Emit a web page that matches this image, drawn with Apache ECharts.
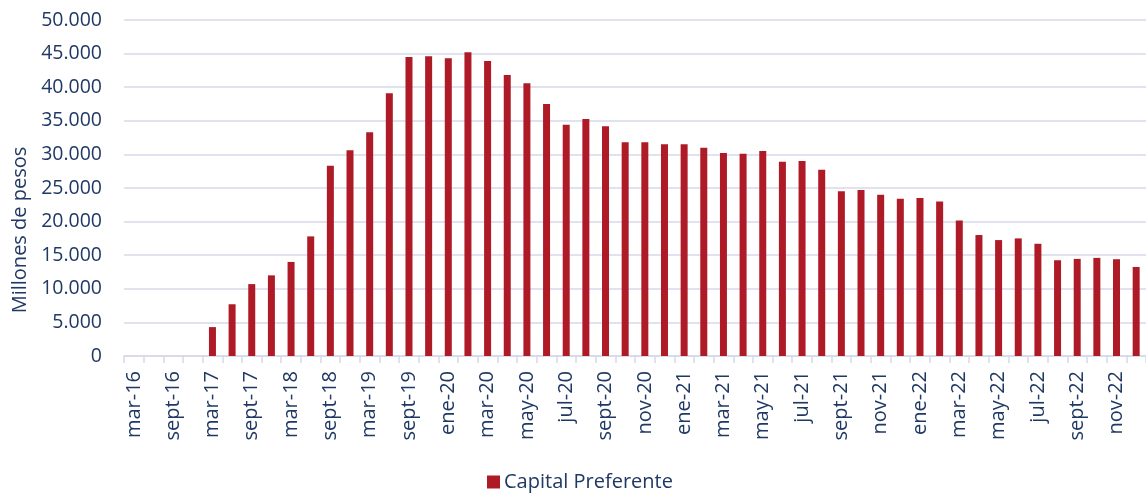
<!DOCTYPE html>
<html>
<head>
<meta charset="utf-8">
<script src="https://cdn.jsdelivr.net/npm/echarts@6/dist/echarts.min.js"></script>
<style>
html,body{margin:0;padding:0;background:#fff;}
#chart{width:1146px;height:493px;}
</style>
</head>
<body>
<div id="chart"></div>
<script>
const categories = [
  'mar-16','jun-16','sept-16','dic-16',
  'mar-17','jun-17','sept-17','dic-17',
  'mar-18','jun-18','sept-18','dic-18',
  'mar-19','jun-19','sept-19','dic-19',
  'ene-20','feb-20','mar-20','abr-20','may-20','jun-20','jul-20','ago-20','sept-20','oct-20','nov-20','dic-20',
  'ene-21','feb-21','mar-21','abr-21','may-21','jun-21','jul-21','ago-21','sept-21','oct-21','nov-21','dic-21',
  'ene-22','feb-22','mar-22','abr-22','may-22','jun-22','jul-22','ago-22','sept-22','oct-22','nov-22','dic-22'
];
const capitalPreferente = [
  null, null, null, null,
  4300, 7700, 10700, 12000,
  14000, 17800, 28300, 30600,
  33300, 39100, 44500, 44600,
  44300, 45200, 43900, 41800, 40600, 37500, 34400, 35250, 34200, 31800, 31800, 31500,
  31500, 31000, 30200, 30100, 30500, 28900, 29000, 27700, 24500, 24700, 24000, 23400,
  23500, 23000, 20150, 18000, 17250, 17500, 16700, 14250, 14450, 14600, 14400, 13250
];
const yTicks = { min: 0, max: 50000, interval: 5000 };
const seriesName = 'Capital Preferente';
const yAxisTitle = 'Millones de pesos';

const textColor = '#1F3864';
const lineColor = '#D6D9EA';
const fontFamily = '"Open Sans", "Noto Sans", sans-serif';

const chart = echarts.init(document.getElementById('chart'));
chart.setOption({
  animation: false,
  textStyle: { fontFamily: fontFamily, color: textColor },
  grid: { left: 124, top: 20, width: 1026, height: 336, containLabel: false },
  legend: {
    data: [seriesName],
    left: 487, top: 472, padding: 0,
    itemWidth: 13, itemHeight: 13, itemGap: 10,
    icon: 'rect',
    textStyle: { fontSize: 20, color: textColor, fontFamily: fontFamily, padding: [0, 0, 0, -1] }
  },
  graphic: [{
    type: 'text',
    x: 20, y: 230,
    rotation: Math.PI / 2,
    style: {
      text: yAxisTitle,
      fill: textColor,
      font: '20px "Open Sans", "Noto Sans", sans-serif',
      align: 'center',
      verticalAlign: 'middle'
    }
  }],
  xAxis: {
    type: 'category',
    data: categories,
    boundaryGap: true,
    axisLine: { show: true, lineStyle: { color: lineColor, width: 1.5 } },
    axisTick: { show: true, interval: 0, length: 7, lineStyle: { color: lineColor, width: 1.5 } },
    axisLabel: { interval: 1, rotate: 90, margin: 15, fontSize: 20, color: textColor, fontFamily: fontFamily },
    splitLine: { show: false }
  },
  yAxis: {
    type: 'value',
    min: yTicks.min, max: yTicks.max, interval: yTicks.interval,
    axisLine: { show: false },
    axisTick: { show: false },
    axisLabel: {
      margin: 22, fontSize: 19.5, color: textColor, fontFamily: fontFamily,
      formatter: function (v) { return v === 0 ? '0' : String(v).replace(/\B(?=(\d{3})+(?!\d))/g, '.'); }
    },
    splitLine: { show: true, lineStyle: { color: lineColor, width: 1.5 } }
  },
  series: [{
    name: seriesName,
    type: 'bar',
    data: capitalPreferente,
    barWidth: 7,
    itemStyle: { color: '#AF1A27' }
  }]
});
</script>
</body>
</html>
